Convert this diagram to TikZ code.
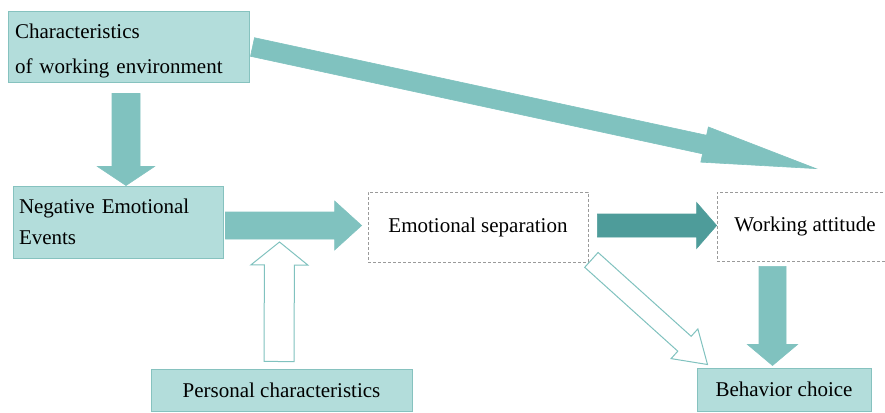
\documentclass[tikz,border=0pt]{standalone}
\usepackage{fontspec}
\setmainfont{Liberation Serif}
\usetikzlibrary{calc}
\definecolor{boxfill}{HTML}{B3DDDB}
\definecolor{boxline}{HTML}{86C2BF}
\definecolor{arrfill}{HTML}{80C2BF}
\definecolor{arrdark}{HTML}{4E9C9A}
\definecolor{dashline}{HTML}{9A9A9A}
% block arrow: [style]{from}{to}{half shaft}{half head}{head length}
\newcommand{\blockarrow}[6][]{%
  \coordinate (ba-n) at ($(#3)!#6!(#2)$);
  \draw[#1] ($(#2)!#4!90:(#3)$) -- ($(ba-n)!#4!90:(#3)$) -- ($(ba-n)!#5!90:(#3)$) -- (#3)
    -- ($(ba-n)!#5!-90:(#3)$) -- ($(ba-n)!#4!-90:(#3)$) -- ($(#2)!#4!-90:(#3)$) -- cycle;}
\begin{document}
\begin{tikzpicture}[x=1pt,y=-1pt,line join=miter,font=\fontsize{21}{25}\selectfont,
  box/.style={draw=boxline,fill=boxfill,line width=1pt,inner sep=0pt},
  dbox/.style={draw=dashline,dash pattern=on 3pt off 2pt,line width=0.8pt,fill=white,inner sep=0pt},
  arr/.style={fill=arrfill,draw=arrfill,line width=0.6pt},
  darr/.style={fill=arrdark,draw=arrdark,line width=0.6pt},
  harr/.style={fill=white,draw=arrfill,line width=1pt}]
 \clip (0,0) rectangle (885,412);
 % boxes
 \node[box,minimum width=241,minimum height=70,text width=227,align=left,font=\fontsize{21}{35}\selectfont] (env) at (128.5,47) {\rule{0pt}{22pt}Characteristics\\of working environment};
 \node[box,minimum width=210,minimum height=72,text width=198,align=left,font=\fontsize{21}{31}\selectfont] (nee) at (118,222) {Negative Emotional\\Events};
 \node[dbox,minimum width=220,minimum height=70] (es) at (478,227) {Emotional separation};
 \node[dbox,minimum width=176,minimum height=69] (wa) at (805,226.5) {Working attitude};
 \node[box,minimum width=261,minimum height=42] (pc) at (281.5,390) {Personal characteristics};
 \node[box,minimum width=174,minimum height=43] (bc) at (784,389.5) {Behavior choice};
 % arrow ends
 \coordinate (envS) at ([shift={(-2.5,11)}]env.south);
 \coordinate (neeN) at ([shift={(8,0)}]nee.north);
 \coordinate (neeE) at ([shift={(2,3.5)}]nee.east);
 \coordinate (esW) at ([shift={(-6,-1.5)}]es.west);
 \coordinate (pcN) at ([shift={(-2.5,-7)}]pc.north);
 \coordinate (mid) at ([shift={(56,20)}]nee.east);
 \coordinate (esE) at ([shift={(9,-1.5)}]es.east);
 \coordinate (waW) at ([shift={(0,-1)}]wa.west);
 \coordinate (waS) at ([shift={(-32.5,5)}]wa.south);
 \coordinate (bcN) at ([shift={(-11.5,-2)}]bc.north);
 \coordinate (esSE) at ([shift={(3,-2.5)}]es.south east);
 \coordinate (bcNW) at ([shift={(11,-3)}]bc.north west);
 \coordinate (envE) at ([shift={(3,0)}]env.east);
 \coordinate (waN) at ([shift={(11,-23)}]wa.north);
 % block arrows
 \blockarrow[arr]{envS}{neeN}{14pt}{28.5pt}{19pt}
 \blockarrow[arr]{neeE}{esW}{13.5pt}{24.5pt}{27pt}
 \blockarrow[harr]{pcN}{mid}{15pt}{28.5pt}{23pt}
 \blockarrow[darr]{esE}{waW}{11.5pt}{23pt}{20pt}
 \blockarrow[arr]{waS}{bcN}{13.5pt}{25pt}{21pt}
 \blockarrow[harr]{esSE}{bcNW}{10pt}{20pt}{31pt}
 \blockarrow[arr]{envE}{waN}{9.5pt}{18pt}{114pt}
\end{tikzpicture}
\end{document}
